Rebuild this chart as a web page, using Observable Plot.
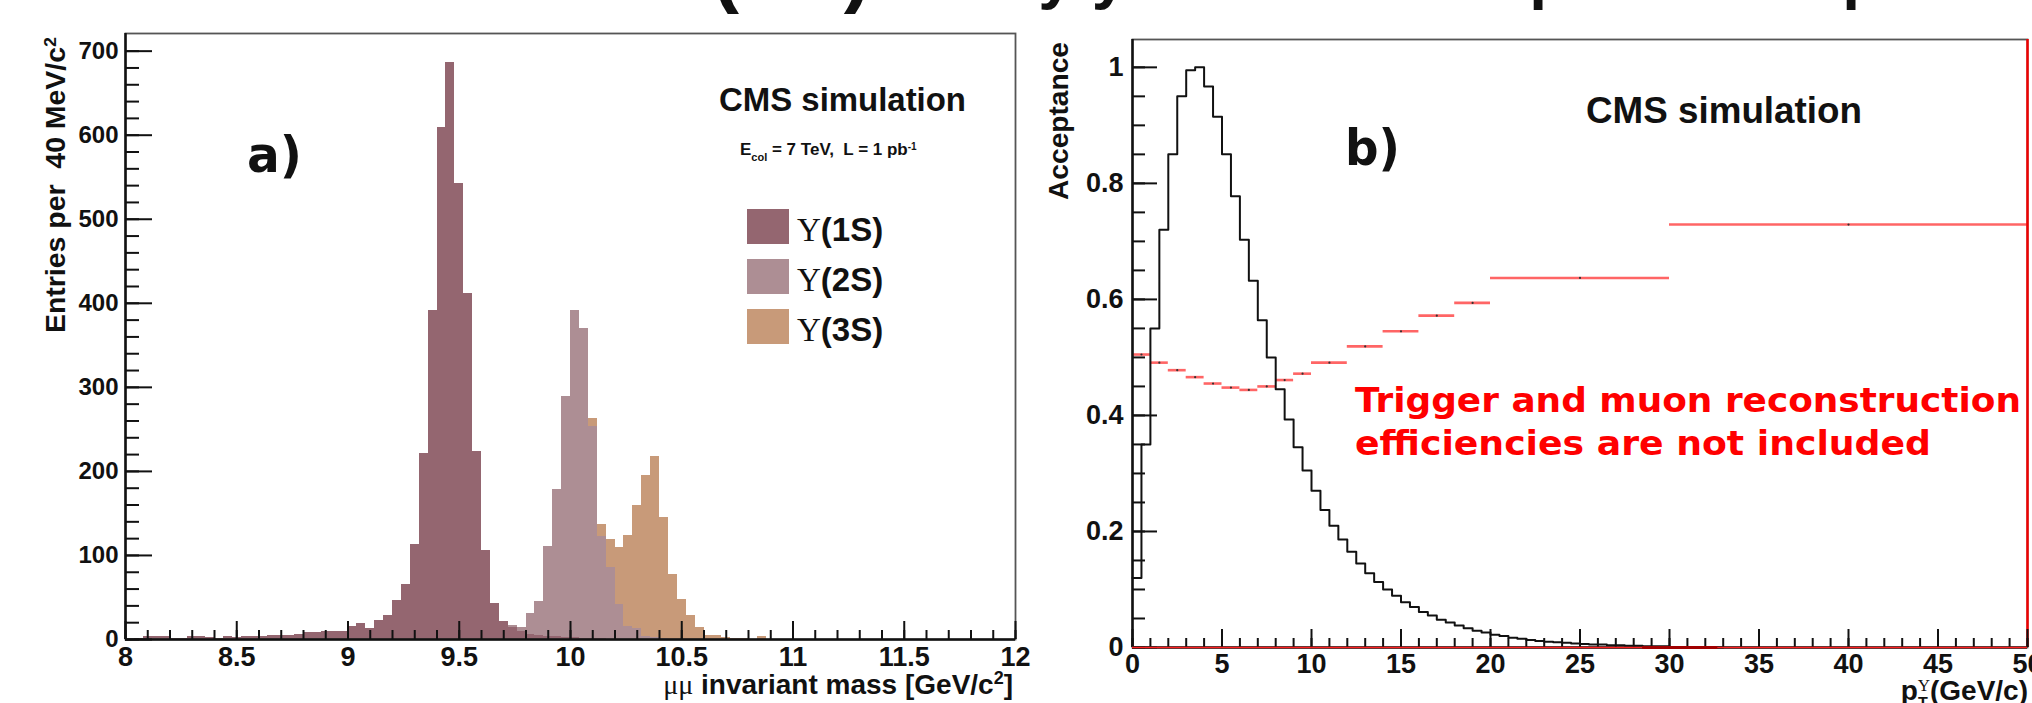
<!DOCTYPE html>
<html><head><meta charset="utf-8">
<script src="https://cdn.jsdelivr.net/npm/d3@7"></script>
<script src="https://cdn.jsdelivr.net/npm/@observablehq/plot@0.6"></script>
<style>
html,body{margin:0;padding:0;background:#fff;width:2032px;height:703px;overflow:hidden;position:relative}
#title{position:absolute;left:0;top:0}
#left{position:absolute;left:0;top:0}
#right{position:absolute;left:1020px;top:0}
svg{overflow:visible}
</style></head><body>
<div id="left"></div><div id="right"></div><div id="title"></div>
<script>
// ---------- Panel a) data: dimuon invariant mass, 40 MeV bins from 8 to 12 GeV ----------
const massStart = 8, massBinWidth = 0.04;
const series = ["Υ(1S)", "Υ(2S)", "Υ(3S)"];
const seriesColors = ["#946670", "#ad8e94", "#c89a79"];
const ups1S = [0,1,3,4,4,1,1,3,3,2, 1,3,2,3,4,4,5,5,5,6, 8,8,10,10,9,15,19,13,23,29,
  46,66,113,221,392,609,686,543,412,224, 106,43,22,14,9,6,5,4,3,2, 2,1,1,1,0,0,0,0,0,0,
  0,0,0,0,0,0,0,0,0,0, 0,0,0,0,0,0,0,0,0,0, 0,0,0,0,0,0,0,0,0,0, 0,0,0,0,0,0,0,0,0,0];
const ups2S = [0,0,0,0,0,0,0,0,0,0, 0,0,0,0,0,0,0,0,0,0, 0,0,0,0,0,0,0,0,0,0,
  0,0,0,0,0,0,0,0,0,0, 0,0,0,3,5,25,40,107,176,287, 390,369,252,121,86,42,15,13,3,2,
  1,0,0,0,0,0,0,0,0,0, 0,0,0,0,0,0,0,0,0,0, 0,0,0,0,0,0,0,0,0,0, 0,0,0,0,0,0,0,0,0,0];
const ups3S = [0,0,0,0,0,0,0,0,0,0, 0,0,0,0,0,0,0,0,0,0, 0,0,0,0,0,0,0,0,0,0,
  0,0,0,0,0,0,0,0,0,0, 0,0,0,0,0,0,0,0,0,0, 0,0,10,15,33,68,109,147,192,216,
  144,77,47,28,14,5,5,2,1,1, 0,3,0,0,0,0,0,0,0,0, 0,0,0,0,0,0,0,0,0,0, 0,0,0,0,0,0,0,0,0,0];
const massMajorTicks = [8, 8.5, 9, 9.5, 10, 10.5, 11, 11.5, 12];
const massTickLabels = ["8", "8.5", "9", "9.5", "10", "10.5", "11", "11.5", "12"];
const entriesMajorTicks = [0, 100, 200, 300, 400, 500, 600, 700];
const entriesTickLabels = ["0", "100", "200", "300", "400", "500", "600", "700"];

// ---------- Panel b) data: acceptance vs pT ----------
const accBinWidth = 0.5; // black histogram, 0.5 GeV/c bins from 0
const accValues = [0.12,0.35,0.55,0.72,0.85,0.95,0.995,1.0,0.967,0.915,
  0.85,0.778,0.703,0.632,0.564,0.50,0.445,0.393,0.345,0.305,
  0.27,0.237,0.21,0.186,0.165,0.145,0.128,0.113,0.10,0.089,
  0.078,0.07,0.061,0.055,0.048,0.043,0.038,0.033,0.029,0.026,
  0.022,0.02,0.017,0.015,0.013,0.011,0.01,0.009,0.008,0.007,
  0.006,0.005,0.005,0.004,0.004,0.003,0.003,0.002,0.002,0.002,
  0.001,0.001,0.001,0.001,0.001,0.0];
const redLo  = [0,1,2,3,4,5,6,7,8,9,10,12,14,16,18,20,30];
const redHi  = [1,2,3,4,5,6,7,8,9,10,12,14,16,18,20,30,50];
const redVal = [0.505,0.491,0.478,0.466,0.455,0.448,0.444,0.45,0.461,0.472,0.491,0.519,0.545,0.572,0.594,0.637,0.729];
const redZeroSegment = [28.5, 32.7];
const ptMajorTicks = [0,5,10,15,20,25,30,35,40,45,50];
const ptTickLabels = ["0","5","10","15","20","25","30","35","40","45","50"];
const accMajorTicks = [0,0.2,0.4,0.6,0.8,1];
const accTickLabels = ["0","0.2","0.4","0.6","0.8","1"];

const SANS = '"Liberation Sans", Arial, Helvetica, sans-serif';
const VERD = '"DejaVu Sans", Verdana, sans-serif';
const SERIF = '"Liberation Serif", "DejaVu Serif", serif';

function rich(svg, o) {
  const t = d3.select(svg).append("text")
    .attr("x", o.x ?? 0).attr("y", o.y ?? 0).attr("text-anchor", o.anchor || "start")
    .attr("font-size", o.size).attr("font-family", o.family || SANS)
    .attr("font-weight", o.weight || "bold").attr("fill", o.fill || "#111")
    .style("white-space", "pre");
  if (o.transform) t.attr("transform", o.transform);
  if (o.textLength) t.attr("textLength", o.textLength).attr("lengthAdjust", "spacingAndGlyphs");
  for (const p of o.parts) {
    const ts = t.append("tspan").text(p.t);
    if (p.shift) ts.attr("baseline-shift", p.shift);
    if (p.size) ts.attr("font-size", p.size);
    if (p.family) ts.attr("font-family", p.family);
    if (p.weight) ts.attr("font-weight", p.weight);
    if (p.dx) ts.attr("dx", p.dx);
  }
  return t;
}

// ---------- Left plot ----------
const rows = [];
[ups1S, ups2S, ups3S].forEach((arr, s) => arr.forEach((v, i) =>
  rows.push({s: series[s], lo: massStart + i * massBinWidth, hi: massStart + (i + 1) * massBinWidth, v})));
const massMinor = d3.range(8, 12.0001, 0.1);
const entriesMinor = d3.range(0, 711, 20);
const LH = 703 - 33 - 64, LW = 1020 - 125 - 5;
const fmtMass = d => massTickLabels[massMajorTicks.indexOf(d)];
const fmtEnt = d => entriesTickLabels[entriesMajorTicks.indexOf(d)];

const left = Plot.plot({
  width: 1020, height: 703,
  marginLeft: 125, marginRight: 5, marginTop: 33, marginBottom: 64,
  style: {fontFamily: SANS, fontWeight: "bold", color: "#111", background: "transparent", overflow: "visible"},
  x: {domain: [8, 12]},
  y: {domain: [0, 721]},
  color: {domain: series, range: seriesColors},
  marks: [
    Plot.rectY(rows, {x1: "lo", x2: "hi", y: "v", fill: "s", inset: 0, shapeRendering: "crispEdges"}),
    Plot.frame({stroke: "#555", strokeWidth: 1.8}),
    Plot.tickX(massMinor, {x: d => d, insetTop: LH - 9, stroke: "#111", strokeWidth: 2}),
    Plot.tickX(massMajorTicks, {x: d => d, insetTop: LH - 18, stroke: "#111", strokeWidth: 2}),
    Plot.tickY(entriesMinor, {y: d => d, insetRight: LW - 14, stroke: "#111", strokeWidth: 2}),
    Plot.tickY(entriesMajorTicks, {y: d => d, insetRight: LW - 27, stroke: "#111", strokeWidth: 2}),
    Plot.ruleX([8], {stroke: "#111", strokeWidth: 2.5}),
    Plot.ruleY([0], {stroke: "#111", strokeWidth: 2.5}),
    Plot.axisX(massMajorTicks, {tickSize: 0, tickPadding: 7, fontSize: 27, tickFormat: fmtMass, label: null}),
    Plot.axisY(entriesMajorTicks, {tickSize: 0, tickPadding: 7, fontSize: 24, tickFormat: fmtEnt, label: null})
  ]
});
document.getElementById("left").appendChild(left);

rich(left, {transform: "translate(65,333) rotate(-90)", size: 27, textLength: 296,
  parts: [{t: "Entries per  40 MeV/c"}, {t: "2", shift: "super", size: 17}]});
rich(left, {x: 1013, y: 694, anchor: "end", size: 28,
  parts: [{t: "μμ", family: SERIF, weight: "normal"}, {t: " invariant mass [GeV/c"}, {t: "2", shift: "super", size: 18}, {t: "]"}]});
rich(left, {x: 719, y: 111, size: 33, textLength: 247, parts: [{t: "CMS simulation"}]});
rich(left, {x: 740, y: 155, size: 17,
  parts: [{t: "E"}, {t: "col", shift: "sub", size: 11}, {t: " = 7 TeV,  L = 1 pb"}, {t: "-1", shift: "super", size: 10}]});
rich(left, {x: 247, y: 172, size: 50, family: VERD, textLength: 55, parts: [{t: "a)"}]});
// legend
const lg = d3.select(left).append("g");
series.forEach((name, i) => {
  lg.append("rect").attr("x", 747).attr("y", 209 + i * 50).attr("width", 42).attr("height", 35).attr("fill", seriesColors[i]);
  rich(left, {x: 797, y: 241 + i * 50, size: 33,
    parts: [{t: name.slice(0, 1), family: SERIF, weight: "normal"}, {t: name.slice(1)}]});
});

// ---------- Right plot ----------
const accRows = accValues.map((v, i) => ({x: i * accBinWidth, v}));
accRows.push({x: accValues.length * accBinWidth, v: accValues[accValues.length - 1]});
const redRows = redLo.map((lo, i) => ({lo, hi: redHi[i], v: redVal[i]}));
const ptMinor = d3.range(0, 50.001, 1);
const accMinor = d3.range(0, 1.0001, 0.05);
const RH = 703 - 39 - 56, RW = 1012 - 112 - 5;
const fmtPt = d => ptTickLabels[ptMajorTicks.indexOf(d)];
const fmtAcc = d => accTickLabels[accMajorTicks.indexOf(d)];

const right = Plot.plot({
  width: 1012, height: 703,
  marginLeft: 112, marginRight: 5, marginTop: 39, marginBottom: 56,
  style: {fontFamily: SANS, fontWeight: "bold", color: "#111", background: "transparent", overflow: "visible"},
  x: {domain: [0, 50]},
  y: {domain: [0, 1.048]},
  marks: [
    Plot.frame({stroke: "#555", strokeWidth: 1.8}),
    Plot.ruleY(redRows, {x1: "lo", x2: "hi", y: "v", stroke: "#ff4a4a", strokeWidth: 2.6, strokeOpacity: 0.85}),
    Plot.dot(redRows, {x: d => (d.lo + d.hi) / 2, y: "v", r: 1.1, fill: "#333", stroke: null}),
    Plot.line(accRows, {x: "x", y: "v", curve: "step-after", stroke: "#111", strokeWidth: 2}),
    Plot.ruleX([50], {stroke: "#e00", strokeWidth: 2.5}),
    Plot.tickX(ptMinor, {x: d => d, insetTop: RH - 9, stroke: "#111", strokeWidth: 2}),
    Plot.tickX(ptMajorTicks, {x: d => d, insetTop: RH - 18, stroke: "#111", strokeWidth: 2}),
    Plot.tickY(accMinor, {y: d => d, insetRight: RW - 13, stroke: "#111", strokeWidth: 2}),
    Plot.tickY(accMajorTicks, {y: d => d, insetRight: RW - 25, stroke: "#111", strokeWidth: 2}),
    Plot.ruleX([0], {stroke: "#111", strokeWidth: 2.5}),
    Plot.ruleY([0], {stroke: "#111", strokeWidth: 2.5}),
    Plot.ruleY([0], {x1: 0, x2: 50, stroke: "#ff2020", strokeWidth: 1.5}),
    Plot.ruleY([0], {x1: redZeroSegment[0], x2: redZeroSegment[1], stroke: "#a00000", strokeWidth: 3}),
    Plot.axisX(ptMajorTicks, {tickSize: 0, tickPadding: 6, fontSize: 27, tickFormat: fmtPt, label: null}),
    Plot.axisY(accMajorTicks, {tickSize: 0, tickPadding: 9, fontSize: 27, tickFormat: fmtAcc, label: null})
  ]
});
document.getElementById("right").appendChild(right);

rich(right, {transform: "translate(48,200) rotate(-90)", size: 27, textLength: 158, parts: [{t: "Acceptance"}]});
rich(right, {x: 1008, y: 700, anchor: "end", size: 28,
  parts: [{t: "p"}, {t: "T", shift: "sub", size: 16}, {t: "Υ", shift: "super", size: 17, family: SERIF, weight: "normal", dx: -10}, {t: "(GeV/c)"}]});
rich(right, {x: 566, y: 123, size: 37, textLength: 276, parts: [{t: "CMS simulation"}]});
rich(right, {x: 325, y: 165, size: 50, family: VERD, textLength: 55, parts: [{t: "b)"}]});
rich(right, {x: 335, y: 412, size: 33, family: VERD, fill: "#ff0000", textLength: 666, parts: [{t: "Trigger and muon reconstruction"}]});
rich(right, {x: 335, y: 455, size: 33, family: VERD, fill: "#ff0000", textLength: 576, parts: [{t: "efficiencies are not included"}]});

// ---------- Slide title, cut off by the top edge of the picture ----------
const titleSvg = d3.select("#title").append("svg").attr("width", 2032).attr("height", 30).style("overflow", "hidden").node();
rich(titleSvg, {x: 657, y: -3, size: 64,
  parts: [{t: "Υ(nS)", size: 82}, {t: " family yield and acceptance vs p"}]});
</script></body></html>
